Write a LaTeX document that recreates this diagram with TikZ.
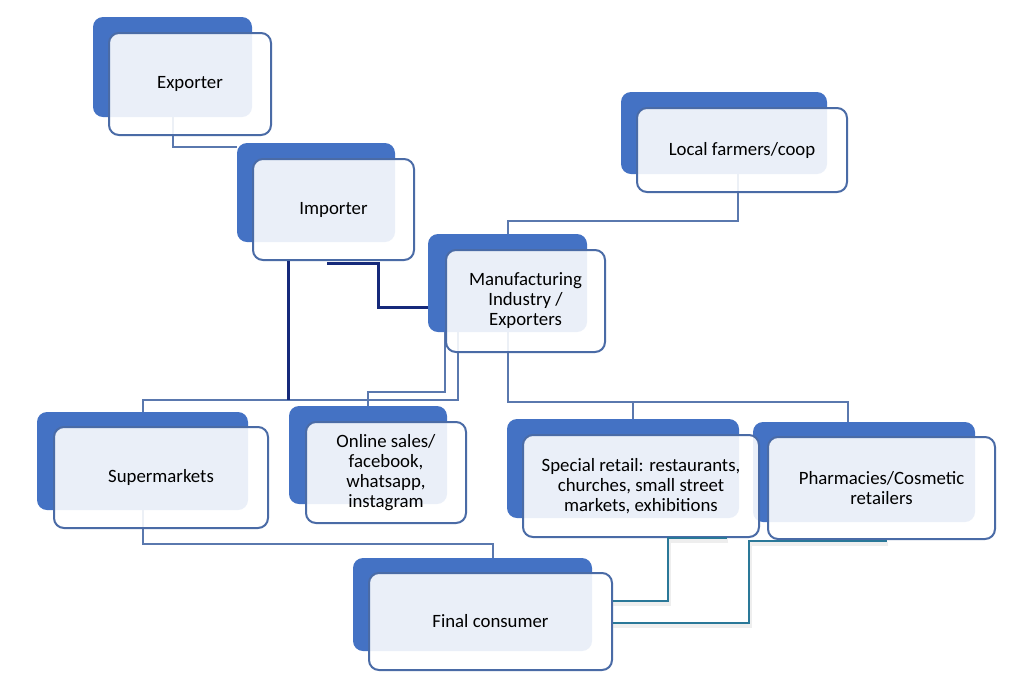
\documentclass[tikz,border=0pt]{standalone}
\usepackage{fontspec}
\setmainfont{Carlito}
\usetikzlibrary{calc}
\definecolor{backblue}{HTML}{4472C4}
\definecolor{edgeblue}{HTML}{4A6BA6}
\definecolor{linkblue}{HTML}{5A78AE}
\definecolor{navyline}{HTML}{15297A}
\definecolor{tealline}{HTML}{2A7898}
\begin{document}
\begin{tikzpicture}[x=0.5pt,y=-0.5pt,
  back/.style={draw=none, fill=backblue, rounded corners=5pt, inner sep=0pt},
  front/.style={draw=edgeblue, line width=1pt, fill=white, fill opacity=0.89, text opacity=1,
    rounded corners=5pt, align=center, inner sep=0pt, font=\fontsize{9.4}{10}\selectfont},
  conn/.style={draw=linkblue, line width=1pt},
  navyconn/.style={draw=navyline, line width=1.5pt},
  tealconn/.style={draw=tealline, line width=1.2pt},
  shadowconn/.style={draw=black!25, line width=1.8pt, opacity=0.25}]
\fill[white] (0,0) rectangle (1022,687);
\useasboundingbox (0,0) rectangle (1022,687);

% back boxes
\node[back, minimum width=79.5pt, minimum height=50pt]   (exB) at (172.5,67) {};
\node[back, minimum width=79pt,   minimum height=49.5pt] (imB) at (316,192.5) {};
\node[back, minimum width=79.5pt, minimum height=49pt]   (mfB) at (507.5,283) {};
\node[back, minimum width=103pt,  minimum height=41pt]   (lfB) at (724,133) {};
\node[back, minimum width=105.5pt,minimum height=49pt]   (smB) at (142.5,461) {};
\node[back, minimum width=79pt,   minimum height=49pt]   (onB) at (368,455) {};
\node[back, minimum width=116pt,  minimum height=49.5pt] (spB) at (623,468.5) {};
\node[back, minimum width=111pt,  minimum height=50pt]   (phB) at (864,472) {};
\node[back, minimum width=119.5pt,minimum height=46.5pt] (fcB) at (472.5,604.5) {};

% thin connectors (under the front boxes)
\draw[conn] (exB.south) |- (imB.west |- 0,147);
\draw[conn] (lfB.south -| 738,0) |- (mfB.north |- 0,221) -- (mfB.north);
\draw[conn] (mfB.south -| 445,0) -- (445,392) -| (onB.north);
\draw[conn] (mfB.south -| 458,0) -- (458,400) -| (smB.north);
\draw[conn] (mfB.south) |- (848,402) -- (phB.north -| 848,0);
\draw[conn] (633,402) -- (spB.north -| 633,0);
\draw[conn] (smB.south) |- (493,544) -- (fcB.north -| 493,0);

% front boxes
\node[front, minimum width=81pt,   minimum height=51pt]   (ex) at (190,84) {Exporter};
\node[front, minimum width=80.5pt, minimum height=50.5pt] (im) at (333.5,209.5) {Importer};
\node[front, minimum width=79.5pt, minimum height=51pt]   (mf) at (525.5,301) {Manufacturing\\Industry /\\Exporters};
\node[front, minimum width=105pt,  minimum height=42pt]   (lf) at (742,150) {Local farmers/coop};
\node[front, minimum width=107pt,  minimum height=50.5pt] (sm) at (161,477.5) {Supermarkets};
\node[front, minimum width=80pt,   minimum height=50.5pt] (on) at (386,472.5) {Online sales/\\facebook,\\whatsapp,\\instagram};
\node[front, minimum width=113.5pt,minimum height=51pt]   (ph) at (881.5,488) {Pharmacies/Cosmetic\\retailers};
\node[front, minimum width=118pt,  minimum height=51pt]   (sp) at (641,486) {Special retail: restaurants,\\churches, small street\\markets, exhibitions};
\node[front, minimum width=121.5pt,minimum height=48.5pt] (fc) at (490.5,621.5) {Final consumer};

% navy connectors from the importer
\coordinate (imOut) at (327,263);
\draw[navyconn] (imOut) -- (378,263) -- (378,307) -- (mfB.west |- 0,307);
\draw[navyconn] (im.south -| 288,0) -- (288,400);

% teal connectors into the final consumer
\coordinate (spOut) at (727,538);
\coordinate (phOut) at (887,541);
\draw[shadowconn] ([shift={(1,3)}]spOut) -- (669,541) -- (669,604) -- (613,604);
\draw[shadowconn] ([shift={(1,3)}]phOut) -- (750,544) -- (750,626) -- (613,626);
\draw[tealconn] (spOut) -- (668,538) -- (668,601) -- (fc.east |- 0,601);
\draw[tealconn] (phOut) -- (749,541) -- (749,623) -- (fc.east |- 0,623);
\end{tikzpicture}
\end{document}
